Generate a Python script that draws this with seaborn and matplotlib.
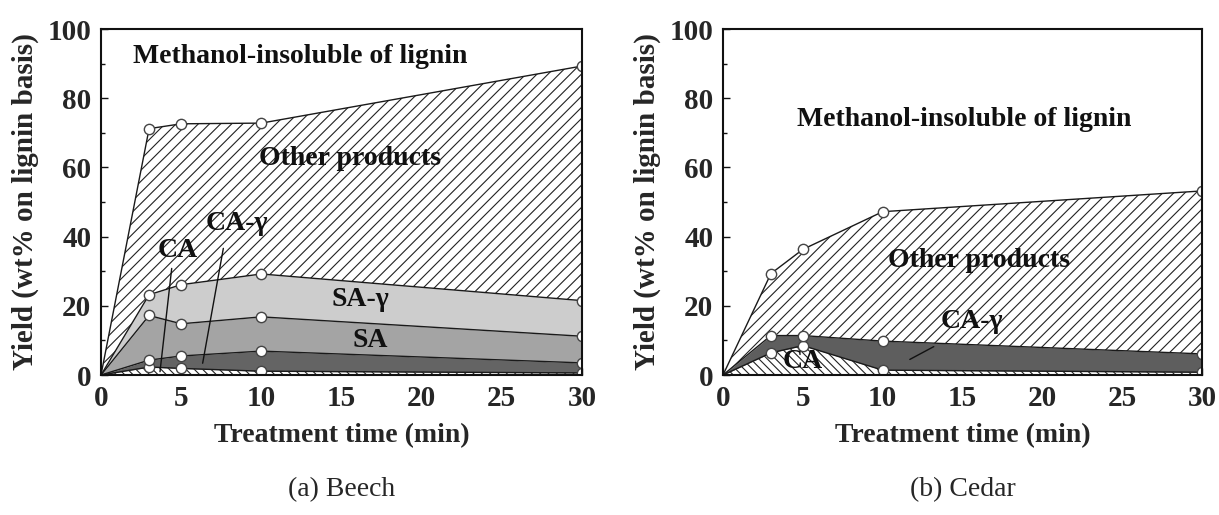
import numpy as np
import matplotlib
matplotlib.use("Agg")
import matplotlib.pyplot as plt
import seaborn as sns

# ---------------- data (wt% on lignin basis) ----------------
time_min = [0, 3, 5, 10, 30]

# Beech: individual product yields (stacked from bottom)
beech_ca = [0, 2.3, 1.9, 1.1, 0.6]
beech_ca_gamma = [0, 2.0, 3.6, 5.8, 2.9]
beech_sa = [0, 12.9, 9.3, 9.9, 7.7]
beech_sa_gamma = [0, 6.0, 11.3, 12.4, 10.3]
beech_other = [0, 48.0, 46.5, 43.6, 67.8]

# Cedar: individual product yields (stacked from bottom)
cedar_ca = [0, 6.4, 8.5, 1.4, 0.8]
cedar_ca_gamma = [0, 5.0, 2.9, 8.4, 5.3]
cedar_other = [0, 17.9, 24.9, 37.4, 47.1]

x_ticks = [0, 5, 10, 15, 20, 25, 30]
y_ticks = [0, 20, 40, 60, 80, 100]

# ---------------- style ----------------
sns.set_theme(style="ticks")
plt.rcParams["font.family"] = ["Liberation Serif", "DejaVu Serif"]
plt.rcParams["hatch.linewidth"] = 0.8
plt.rcParams["hatch.color"] = "#222222"

fig = plt.figure(figsize=(12.19, 5.15), dpi=100)
ax1 = fig.add_axes([101 / 1219, 1 - 375 / 515, 481 / 1219, 346 / 515])
ax2 = fig.add_axes([723 / 1219, 1 - 375 / 515, 479 / 1219, 346 / 515])


def draw_stack(ax, layers):
    base = np.zeros(len(time_min))
    tops = []
    for vals, fc, hatch in layers:
        top = base + np.array(vals)
        ax.fill_between(time_min, base, top, facecolor=fc, hatch=hatch,
                        edgecolor="#222222", linewidth=0, zorder=1)
        tops.append(top)
        base = top
    for top in tops:
        sns.lineplot(x=time_min, y=top, ax=ax, color="#1a1a1a",
                     linewidth=1.0, zorder=3, legend=False)
        sns.scatterplot(x=time_min[1:], y=top[1:], ax=ax, s=55,
                        facecolor="white", edgecolor="#444444",
                        linewidth=1.0, zorder=4, legend=False)


draw_stack(ax1, [
    (beech_ca, "white", "\\\\\\\\"),
    (beech_ca_gamma, "#646464", None),
    (beech_sa, "#a4a4a4", None),
    (beech_sa_gamma, "#cdcdcd", None),
    (beech_other, "white", "///"),
])
draw_stack(ax2, [
    (cedar_ca, "white", "\\\\\\\\"),
    (cedar_ca_gamma, "#5e5e5e", None),
    (cedar_other, "white", "///"),
])

lab = dict(fontsize=20, fontweight="bold", ha="center", va="center",
           color="#111111", zorder=6)

# Beech annotations
ax1.text(12.4, 92, "Methanol-insoluble of lignin", **lab)
ax1.text(15.5, 62.6, "Other products", **lab)
ax1.text(16.2, 21.7, "SA-γ", **lab)
ax1.text(16.8, 9.9, "SA", **lab)
ax1.text(4.8, 36.1, "CA", **lab)
ax1.text(8.5, 43.8, "CA-γ", **lab)
ax1.plot([4.41, 3.68], [30.8, 0.95], color="#111111", lw=1.0, zorder=5)
ax1.plot([7.63, 6.34], [36.6, 3.4], color="#111111", lw=1.0, zorder=5)

# Cedar annotations
ax2.text(15.1, 73.9, "Methanol-insoluble of lignin", **lab)
ax2.text(16.05, 33.0, "Other products", **lab)
ax2.text(15.6, 15.6, "CA-γ", **lab)
ax2.text(5.0, 3.9, "CA", **lab)
ax2.plot([13.2, 11.7], [8.2, 4.5], color="#111111", lw=1.0, zorder=5)

for ax in (ax1, ax2):
    ax.set_xlim(0, 30)
    ax.set_ylim(0, 100)
    ax.set_xticks(x_ticks)
    ax.set_yticks(y_ticks)
    ax.set_yticks([10, 30, 50, 70, 90], minor=True)
    ax.tick_params(axis="both", which="major", direction="in", length=5,
                   width=1.0, labelsize=21, pad=7, color="#111111")
    ax.tick_params(axis="y", which="minor", direction="in", length=3,
                   width=1.0, color="#111111")
    for lbl in ax.get_xticklabels() + ax.get_yticklabels():
        lbl.set_fontweight("bold")
    for sp in ax.spines.values():
        sp.set_visible(True)
        sp.set_linewidth(1.5)
        sp.set_color("#111111")
        sp.set_zorder(7)
    ax.set_xlabel("Treatment time (min)", fontsize=20, fontweight="bold",
                  labelpad=8)
    ax.set_ylabel("Yield (wt% on lignin basis)", fontsize=21,
                  fontweight="bold", labelpad=6)

fig.text((101 + 582) / 2 / 1219, 1 - 490 / 515, "(a) Beech", fontsize=20,
         ha="center", va="center")
fig.text((723 + 1202) / 2 / 1219, 1 - 490 / 515, "(b) Cedar", fontsize=20,
         ha="center", va="center")

fig.savefig("out.png", dpi=100, facecolor="white")
